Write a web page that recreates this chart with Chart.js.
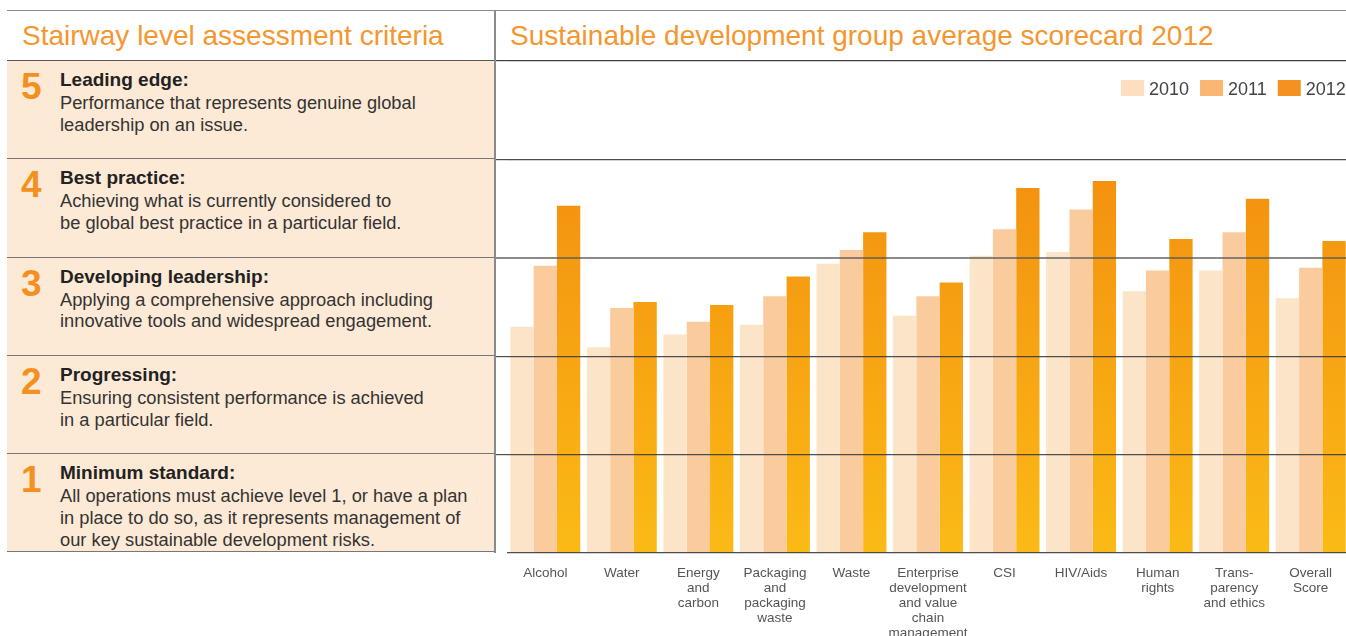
<!DOCTYPE html>
<html>
<head>
<meta charset="utf-8">
<script src="https://cdn.jsdelivr.net/npm/chart.js@4.4.1/dist/chart.umd.min.js"></script>
<style>
  html, body { margin: 0; padding: 0; background: #fff; }
  body { width: 1346px; height: 636px; overflow: hidden; position: relative;
         font-family: "Liberation Sans", Arial, sans-serif; }
  #head { position: absolute; left: 7px; top: 10px; width: 1339px; height: 51px;
          box-sizing: border-box; border-top: 1.5px solid #8a8a8a; border-bottom: 1px solid #555; }
  .title { position: absolute; top: 9px; font-size: 28px; line-height: 32px; color: #f5962f; white-space: nowrap; }
  #left { position: absolute; left: 7px; top: 61px; width: 488px; }
  .row { position: relative; height: 98.3px; box-sizing: border-box; background: #fdead6;
         border-bottom: 1px solid #777; }
  .num { position: absolute; left: 14px; top: 8px; font-size: 37px; line-height: 36px; font-weight: bold; color: #f39120; }
  .txt { position: absolute; left: 53px; top: 7px; width: 432px; }
  .txt b { display: block; font-size: 19px; line-height: 24px; color: #222; }
  .txt span { display: block; font-size: 18.3px; line-height: 21.7px; color: #333; }
  #divider { position: absolute; left: 494px; top: 10px; width: 2px; height: 543px; background: #8a8a8a; z-index: 5; }
  #wrap { position: absolute; left: 495px; top: 51px; width: 854px; height: 592px; }
</style>
</head>
<body>
<div id="head">
  <div class="title" style="left:15px">Stairway level assessment criteria</div>
  <div class="title" style="left:503px">Sustainable development group average scorecard 2012</div>
</div>
<div id="left">
  <div class="row"><div class="num">5</div><div class="txt"><b>Leading edge:</b><span>Performance that represents genuine global<br>leadership on an issue.</span></div></div>
  <div class="row"><div class="num">4</div><div class="txt"><b>Best practice:</b><span>Achieving what is currently considered to<br>be global best practice in a particular field.</span></div></div>
  <div class="row"><div class="num">3</div><div class="txt"><b>Developing leadership:</b><span>Applying a comprehensive approach including<br>innovative tools and widespread engagement.</span></div></div>
  <div class="row"><div class="num">2</div><div class="txt"><b>Progressing:</b><span>Ensuring consistent performance is achieved<br>in a particular field.</span></div></div>
  <div class="row"><div class="num">1</div><div class="txt"><b>Minimum standard:</b><span>All operations must achieve level 1, or have a plan<br>in place to do so, as it represents management of<br>our key sustainable development risks.</span></div></div>
</div>
<div id="divider"></div>
<div id="wrap"><canvas id="myChart"></canvas></div>

<script>
const categories = [
  "Alcohol", "Water", ["Energy", "and", "carbon"], ["Packaging", "and", "packaging", "waste"],
  "Waste", ["Enterprise", "development", "and value", "chain", "management"], "CSI", "HIV/Aids",
  ["Human", "rights"], ["Trans-", "parency", "and ethics"], ["Overall", "Score"]
];
const years = ["2010", "2011", "2012"];
const scores2010 = [2.30, 2.09, 2.22, 2.32, 2.94, 2.41, 3.02, 3.06, 2.66, 2.87, 2.59];
const scores2011 = [2.92, 2.49, 2.35, 2.61, 3.08, 2.61, 3.29, 3.49, 2.87, 3.26, 2.90];
const scores2012 = [3.53, 2.55, 2.52, 2.81, 3.26, 2.75, 3.71, 3.78, 3.19, 3.60, 3.17];
const levels = [0, 1, 2, 3, 4, 5];

const legendColors = ["#fddfc0", "#fbb674", "#f39121"];

Chart.defaults.font.family = "'Liberation Sans', Arial, sans-serif";

// orange -> yellow fade for the 2012 bars
function fade2012(ctx) {
  const area = ctx.chart.chartArea;
  if (!area) return "#f5a01a";
  const g = ctx.chart.ctx.createLinearGradient(0, area.top, 0, area.bottom);
  g.addColorStop(0, "#f1850e");
  g.addColorStop(1, "#fbba16");
  return g;
}

// legend sits inside the top band of the plot, right aligned
const cornerLegend = {
  id: "cornerLegend",
  afterDraw(chart) {
    const c = chart.ctx;
    c.save();
    c.font = "18px 'Liberation Sans', Arial, sans-serif";
    c.textBaseline = "alphabetic";
    let x = 626;
    chart.data.datasets.forEach((ds, i) => {
      c.fillStyle = legendColors[i];
      c.fillRect(x, 29, 23, 16);
      c.fillStyle = "#444";
      c.fillText(ds.label, x + 28, 44);
      x += 28 + c.measureText(ds.label).width + 11;
    });
    c.restore();
  }
};

const data = {
  labels: categories,
  datasets: [
    { label: years[0], data: scores2010, backgroundColor: "#fce4c8" },
    { label: years[1], data: scores2011, backgroundColor: "#facc9d" },
    { label: years[2], data: scores2012, backgroundColor: fade2012 }
  ]
};

const gridColor = (ctx) => ctx.tick && ctx.tick.value === 3 ? "rgba(90,90,90,0.7)" : "rgba(60,60,60,0.9)";

const config = {
  type: "bar",
  data,
  options: {
    responsive: true,
    maintainAspectRatio: false,
    animation: false,
    layout: { padding: { top: 10, left: 0, right: 0, bottom: 0 } },
    datasets: { bar: { categoryPercentage: 0.914, barPercentage: 1.0 } },
    plugins: {
      legend: { display: false },
      tooltip: { enabled: false }
    },
    scales: {
      x: {
        grid: { display: false, drawTicks: false },
        border: { display: false },
        ticks: {
          autoSkip: false, maxRotation: 0, padding: 13,
          color: "#555", font: { size: 13.5, lineHeight: 1.1 }
        },
        afterFit: (scale) => { scale.height = 90; }
      },
      y: {
        min: levels[0],
        max: levels[levels.length - 1],
        afterBuildTicks: (scale) => { scale.ticks = levels.map(v => ({ value: v })); },
        ticks: { display: false },
        border: { display: false },
        grid: {
          z: 1,
          drawTicks: true,
          tickLength: 12,
          color: gridColor,
          tickColor: (ctx) => ctx.tick && ctx.tick.value === 0 ? "rgba(0,0,0,0)" : gridColor(ctx),
          lineWidth: (ctx) => ctx.tick && ctx.tick.value === 3 ? 2 : 1.2
        },
        afterFit: (scale) => { scale.width = 12; }
      }
    }
  },
  plugins: [cornerLegend]
};

const myChart = new Chart(document.getElementById("myChart"), config);
</script>
</body>
</html>
